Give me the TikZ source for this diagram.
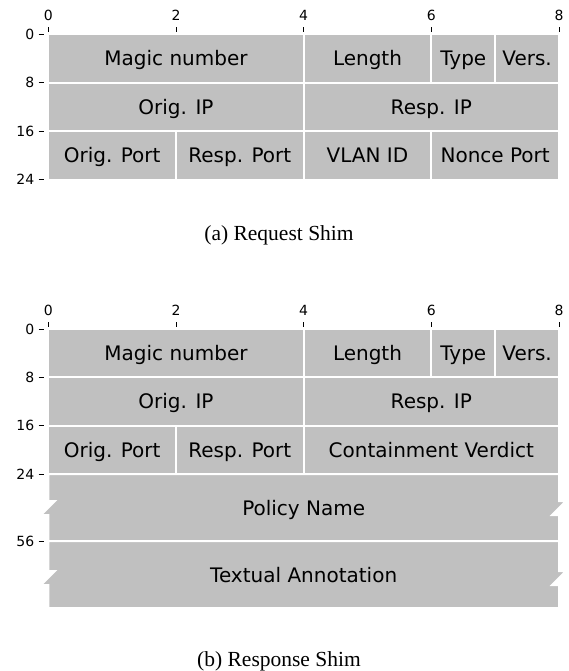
\documentclass[tikz,border=0pt]{standalone}
\usepackage{fontspec}
\setmainfont{Liberation Serif}
\newfontfamily\fieldfont{DejaVu Sans}
\usetikzlibrary{positioning}
\definecolor{fieldgray}{RGB}{192,192,192}
\newcommand{\colw}{63.84pt}
\newcommand{\rowh}{48.4pt}

\begin{document}
\begin{tikzpicture}[x=1pt,y=-1pt]

    % Define node styles
    \tikzstyle{field_block} = [draw=white, fill=fieldgray, line width=2pt, outer sep=0pt, inner sep=0pt, minimum height=\rowh, text height=14.6pt, text depth=0pt, font=\fieldfont\fontsize{20}{24}\selectfont]
    \tikzstyle{break_block} = [draw=white, fill=fieldgray, line width=2pt]
    \tikzstyle{field_text} = [inner sep=0pt, text height=14.6pt, text depth=0pt, font=\fieldfont\fontsize{20}{24}\selectfont]
    \tikzstyle{tick_label} = [inner sep=0pt, text height=10.2pt, text depth=0pt, font=\fieldfont\fontsize{14}{16}\selectfont]
    \tikzstyle{tick_mark} = [line width=0.8pt]
    \tikzstyle{caption_text} = [inner sep=0pt, anchor=base, font=\fontsize{21.5}{25}\selectfont]

    \useasboundingbox (0,0) rectangle (568,671);

    % Request shim
    \node [field_block, anchor=north west, minimum width=4*\colw] (req_magic) at (48.3,34.3) {Magic number};
    \node [field_block, right=0pt of req_magic, minimum width=2*\colw] (req_length) {Length};
    \node [field_block, right=0pt of req_length, minimum width=\colw] (req_type) {Type};
    \node [field_block, right=0pt of req_type, minimum width=\colw] (req_vers) {Vers.};
    \node [field_block, below=0pt of req_magic.south west, anchor=north west, minimum width=4*\colw] (req_origip) {Orig. IP};
    \node [field_block, right=0pt of req_origip, minimum width=4*\colw] (req_respip) {Resp. IP};
    \node [field_block, below=0pt of req_origip.south west, anchor=north west, minimum width=2*\colw] (req_origport) {Orig. Port};
    \node [field_block, right=0pt of req_origport, minimum width=2*\colw] (req_respport) {Resp. Port};
    \node [field_block, right=0pt of req_respport, minimum width=2*\colw] (req_vlan) {VLAN ID};
    \node [field_block, right=0pt of req_vlan, minimum width=2*\colw] (req_nonce) {Nonce Port};

    % Request axes
    \foreach \b in {0,2,4,6,8} {
        \node [tick_label] (req_top\b) at (48.3+\b*63.84, 15.5) {\b};
        \draw [tick_mark] (48.3+\b*63.84, 27.3) -- (48.3+\b*63.84, 32.3);
    }
    \foreach \r in {0,8,16,24} {
        \node [tick_label, anchor=east] (req_left\r) at (34.5, 34.3+\r*6.05) {\r};
        \draw [tick_mark] (38.5, 34.3+\r*6.05) -- (43.5, 34.3+\r*6.05);
    }

    \node [caption_text] (req_caption) at (279,240) {(a) Request Shim};

    % Response shim
    \node [field_block, anchor=north west, minimum width=4*\colw] (resp_magic) at (48.3,329) {Magic number};
    \node [field_block, right=0pt of resp_magic, minimum width=2*\colw] (resp_length) {Length};
    \node [field_block, right=0pt of resp_length, minimum width=\colw] (resp_type) {Type};
    \node [field_block, right=0pt of resp_type, minimum width=\colw] (resp_vers) {Vers.};
    \node [field_block, below=0pt of resp_magic.south west, anchor=north west, minimum width=4*\colw] (resp_origip) {Orig. IP};
    \node [field_block, right=0pt of resp_origip, minimum width=4*\colw] (resp_respip) {Resp. IP};
    \node [field_block, below=0pt of resp_origip.south west, anchor=north west, minimum width=2*\colw] (resp_origport) {Orig. Port};
    \node [field_block, right=0pt of resp_origport, minimum width=2*\colw] (resp_respport) {Resp. Port};
    \node [field_block, right=0pt of resp_respport, minimum width=4*\colw] (resp_verdict) {Containment Verdict};

    % variable length fields, cut on both sides
    \draw [break_block] (48.3,474.2) -- (559,474.2) -- (559,501) -- (566,501) -- (552,515) -- (559,515) -- (559,541.2)
        -- (48.3,541.2) -- (48.3,515) -- (41,515) -- (55,501) -- (48.3,501) -- cycle;
    \node [field_text] (resp_policy) at (303.7,507.7) {Policy Name};
    \draw [break_block] (48.3,541.2) -- (559,541.2) -- (559,571) -- (566,571) -- (552,585) -- (559,585) -- (559,608.2)
        -- (48.3,608.2) -- (48.3,585) -- (41,585) -- (55,571) -- (48.3,571) -- cycle;
    \node [field_text] (resp_annotation) at (303.7,574.7) {Textual Annotation};

    % Response axes
    \foreach \b in {0,2,4,6,8} {
        \node [tick_label] (resp_top\b) at (48.3+\b*63.84, 310.5) {\b};
        \draw [tick_mark] (48.3+\b*63.84, 322) -- (48.3+\b*63.84, 327);
    }
    \foreach \r/\y in {0/329,8/377.4,16/425.8,24/474.2,56/541.2} {
        \node [tick_label, anchor=east] (resp_left\r) at (34.5,\y) {\r};
        \draw [tick_mark] (38.5,\y) -- (43.5,\y);
    }

    \node [caption_text] (resp_caption) at (279,666.7) {(b) Response Shim};

\end{tikzpicture}
\end{document}
